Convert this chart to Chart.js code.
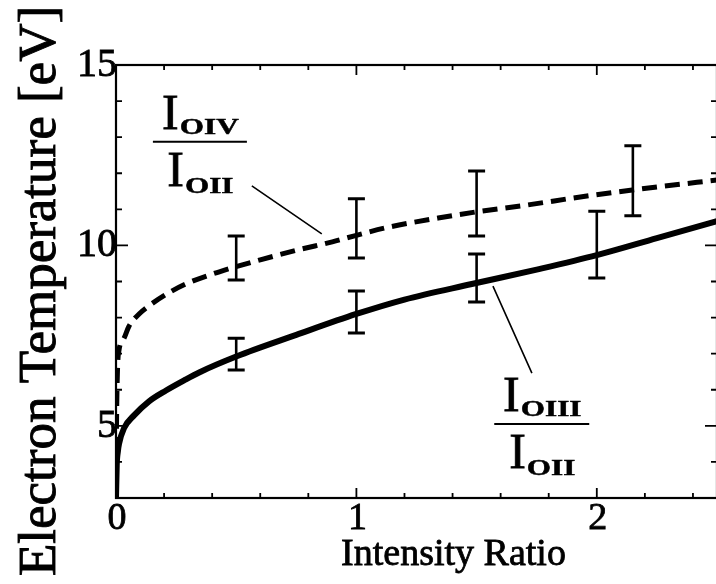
<!DOCTYPE html>
<html><head><meta charset="utf-8">
<script src="https://cdn.jsdelivr.net/npm/chart.js@4/dist/chart.umd.min.js"></script>
<style>html,body{margin:0;padding:0;background:#fff;overflow:hidden;width:716px;height:584px}</style>
</head><body>
<canvas id="c" width="720" height="584"></canvas>
<script>
// ---- data ----
const oivX = [0, 0.002, 0.006, 0.0125, 0.033, 0.054, 0.096, 0.14, 0.208, 0.29, 0.43, 0.6, 0.76, 0.9, 1.0, 1.13, 1.34, 1.5, 1.69, 1.97, 2.25, 2.5];
const oivY = [3, 5.0, 6.5, 7.1, 7.42, 7.76, 8.1, 8.34, 8.64, 8.93, 9.27, 9.6, 9.88, 10.1, 10.28, 10.5, 10.76, 10.93, 11.1, 11.38, 11.62, 11.81];
const oiiiX = [0, 0.003, 0.008, 0.0125, 0.033, 0.075, 0.1375, 0.208, 0.283, 0.346, 0.5, 0.75, 1.0, 1.2, 1.48, 1.75, 2.0, 2.25, 2.5];
const oiiiY = [3, 3.9, 4.3, 4.5, 4.93, 5.29, 5.68, 5.98, 6.26, 6.48, 6.92, 7.52, 8.1, 8.5, 8.93, 9.33, 9.73, 10.2, 10.67];
const oivErrX = [0.5, 1.0, 1.5, 2.15];
const oivErrLow = [9.04, 9.65, 10.26, 10.82];
const oivErrHigh = [10.26, 11.29, 12.06, 12.76];
const oiiiErrX = [0.5, 1.0, 1.5, 2.0];
const oiiiErrLow = [6.55, 7.57, 8.43, 9.1];
const oiiiErrHigh = [7.43, 8.74, 9.76, 10.95];
const xTickValues = [0, 1, 2];
const xTickLabels = ["0", "1", "2"];
const yTickValues = [5, 10, 15];
const yTickLabels = ["5", "10", "15"];
const xAxisTitle = "Intensity Ratio";
const yAxisTitle = "Electron Temperature [eV]";
const oivLabel = {num: "OIV", den: "OII"};
const oiiiLabel = {num: "OIII", den: "OII"};

const SERIF = "'Liberation Serif', 'Times New Roman', serif";

function heavyText(ctx, s, px, py, w) {
  ctx.fillText(s, px, py);
  ctx.lineWidth = w;
  ctx.strokeText(s, px, py);
}

function drawFraction(ctx, cx, cy, barW, numSub, denSub) {
  const rows = [[numSub, -13, 5], [denSub, 44, 7]];
  const sx = 1.3;
  rows.forEach(([sub, dy, sdy]) => {
    ctx.font = "50px " + SERIF;
    const wI = ctx.measureText("I").width;
    ctx.font = "bold 24px " + SERIF;
    const wS = ctx.measureText(sub).width * sx;
    const left = cx - (wI + wS) / 2;
    ctx.font = "50px " + SERIF;
    heavyText(ctx, "I", left, cy + dy, 0.8);
    ctx.save();
    ctx.font = "bold 24px " + SERIF;
    ctx.translate(left + wI + 1, cy + dy + sdy);
    ctx.scale(sx, 1);
    heavyText(ctx, sub, 0, 0, 0.5);
    ctx.restore();
  });
  ctx.lineWidth = 2;
  ctx.beginPath();
  ctx.moveTo(cx - barW / 2, cy); ctx.lineTo(cx + barW / 2, cy);
  ctx.stroke();
}

const framePlugin = {
  id: 'frame',
  afterDatasetsDraw(chart) {
    const {ctx, chartArea: a, scales: {x, y}} = chart;
    ctx.save();
    ctx.strokeStyle = '#000'; ctx.fillStyle = '#000';
    ctx.lineCap = 'butt';
    // error bars
    const errBars = (xs, lo, hi) => xs.forEach((v, i) => {
      const px = x.getPixelForValue(v), p1 = y.getPixelForValue(lo[i]), p2 = y.getPixelForValue(hi[i]);
      ctx.lineWidth = 2.6;
      ctx.beginPath(); ctx.moveTo(px, p1); ctx.lineTo(px, p2); ctx.stroke();
      ctx.lineWidth = 3;
      ctx.beginPath();
      ctx.moveTo(px - 8.5, p1); ctx.lineTo(px + 8.5, p1);
      ctx.moveTo(px - 8.5, p2); ctx.lineTo(px + 8.5, p2);
      ctx.stroke();
    });
    errBars(oivErrX, oivErrLow, oivErrHigh);
    errBars(oiiiErrX, oiiiErrLow, oiiiErrHigh);
    // frame
    ctx.lineWidth = 2.2;
    ctx.strokeRect(a.left, a.top, a.right - a.left, a.bottom - a.top);
    // ticks (inward)
    ctx.lineWidth = 1.8;
    ctx.beginPath();
    for (let k = 0; k <= 12; k++) {
      const v = k * 0.2; if (v > x.max) break;
      const px = x.getPixelForValue(v);
      const major = k % 5 === 0;
      const L = major ? 10 : 5;
      ctx.moveTo(px, a.bottom); ctx.lineTo(px, a.bottom - L);
      ctx.moveTo(px, a.top); ctx.lineTo(px, a.top + L);
    }
    for (let v = 4; v <= 14; v++) {
      const py = y.getPixelForValue(v);
      const major = v % 5 === 0;
      const L = major ? 12 : 6;
      ctx.moveTo(a.left, py); ctx.lineTo(a.left + L, py);
      ctx.moveTo(a.right, py); ctx.lineTo(a.right - L, py);
    }
    ctx.stroke();
    // tick labels
    ctx.font = "40px " + SERIF;
    ctx.textBaseline = 'alphabetic';
    ctx.textAlign = 'right';
    yTickValues.forEach((v, i) => heavyText(ctx, yTickLabels[i], a.left + 1, y.getPixelForValue(v) + 11, 0.8));
    ctx.font = "38px " + SERIF;
    ctx.textAlign = 'center';
    xTickValues.forEach((v, i) => heavyText(ctx, xTickLabels[i], x.getPixelForValue(v) + 1, a.bottom + 31, 0.8));
    // axis titles
    ctx.font = "38px " + SERIF;
    heavyText(ctx, xAxisTitle, (a.left + x.getPixelForValue(2.5)) / 2 + 37, a.bottom + 67, 0.8);
    ctx.save();
    ctx.font = "53px " + SERIF;
    ctx.translate(55, 291);
    ctx.rotate(-Math.PI / 2);
    heavyText(ctx, yAxisTitle, 0, 0, 0.9);
    ctx.restore();
    // annotations
    ctx.textAlign = 'left';
    drawFraction(ctx, x.getPixelForValue(0.349), y.getPixelForValue(12.87), 94, oivLabel.num, oivLabel.den);
    drawFraction(ctx, x.getPixelForValue(1.771), y.getPixelForValue(5.05), 95, oiiiLabel.num, oiiiLabel.den);
    ctx.lineWidth = 1.6;
    ctx.beginPath();
    ctx.moveTo(x.getPixelForValue(0.565), y.getPixelForValue(11.65));
    ctx.lineTo(x.getPixelForValue(0.856), y.getPixelForValue(10.32));
    ctx.moveTo(x.getPixelForValue(1.568), y.getPixelForValue(8.87));
    ctx.lineTo(x.getPixelForValue(1.73), y.getPixelForValue(6.46));
    ctx.stroke();
    ctx.restore();
  }
};

new Chart(document.getElementById('c'), {
  type: 'scatter',
  data: {
    datasets: [
      {data: oivX.map((v, i) => ({x: v, y: oivY[i]})), showLine: true, borderColor: '#000', borderWidth: 5,
       borderDash: [15, 8], pointRadius: 0, tension: 0.4, cubicInterpolationMode: 'monotone', fill: false},
      {data: oiiiX.map((v, i) => ({x: v, y: oiiiY[i]})), showLine: true, borderColor: '#000', borderWidth: 6,
       pointRadius: 0, tension: 0.4, cubicInterpolationMode: 'monotone', fill: false}
    ]
  },
  options: {
    responsive: false, animation: false, devicePixelRatio: 1,
    layout: {padding: {left: 116, top: 65, right: 3, bottom: 86}},
    plugins: {legend: {display: false}, tooltip: {enabled: false}},
    scales: {
      x: {type: 'linear', min: 0, max: 2.5, display: false},
      y: {type: 'linear', min: 3, max: 15, display: false}
    }
  },
  plugins: [framePlugin]
});
</script>
</body></html>
